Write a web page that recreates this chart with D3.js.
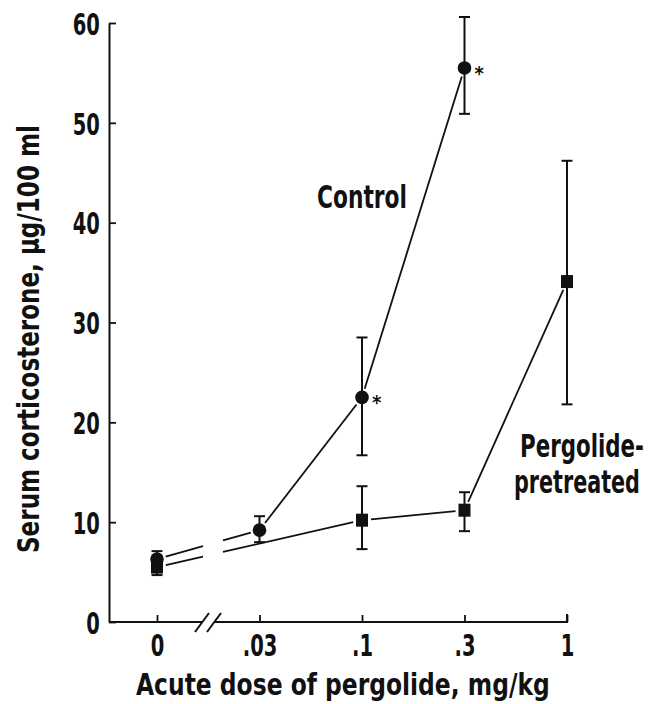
<!DOCTYPE html>
<html>
<head>
<meta charset="utf-8">
<script src="https://cdn.jsdelivr.net/npm/d3@7"></script>
<style>
  body { margin: 0; background: #fff; }
  text { font-family: "Liberation Sans Narrow", "DejaVu Sans Condensed", "Roboto Condensed", sans-serif; font-weight: bold; fill: #111; }
</style>
</head>
<body>
<script>
// dose categories (log-spaced on the original axis)
var doses = ["0", ".03", ".1", ".3", "1"];
var yTicks = [0, 10, 20, 30, 40, 50, 60];

// control rats
var controlMean = [6.3, 9.2, 22.5, 55.5, null];
var controlHigh = [7.1, 10.6, 28.5, 60.6, null];
var controlLow  = [5.5, 8.0, 16.7, 50.9, null];
var controlSig  = [false, false, true, true, false];

// pergolide-pretreated rats (no group at .03)
var pergMean = [5.5, null, 10.2, 11.2, 34.1];
var pergHigh = [6.3, null, 13.6, 13.0, 46.2];
var pergLow  = [4.7, null, 7.3, 9.1, 21.8];

var width = 650, height = 704;
var svg = d3.select("body").append("svg").attr("width", width).attr("height", height);

var margin = {left: 109, top: 23};
var plotH = 599;

var y = d3.scaleLinear().domain([0, 60]).range([plotH, 0]);
var x = d3.scalePoint().domain(doses).range([48, 458]);

var g = svg.append("g").attr("transform", "translate(" + margin.left + "," + margin.top + ")");

// y axis
var yAxis = d3.axisLeft(y).tickValues(yTicks).tickSize(-7).tickSizeOuter(0).tickPadding(13);
var yg = g.append("g").call(yAxis);
yg.select(".domain").attr("stroke", "#111").attr("stroke-width", 2);
yg.selectAll(".tick line").attr("stroke", "#111").attr("stroke-width", 1.8);
yg.selectAll(".tick text").attr("font-size", 31).attr("fill", "#111")
  .attr("font-family", null).attr("dy", "0.36em").attr("transform", "scale(0.7,1)");

// x axis, ticks only; the baseline is drawn by hand with a break
var xAxis = d3.axisBottom(x).tickSize(-7).tickSizeOuter(0).tickPadding(12);
var xg = g.append("g").attr("transform", "translate(0," + plotH + ")").call(xAxis);
xg.select(".domain").remove();
xg.selectAll(".tick line").attr("stroke", "#111").attr("stroke-width", 1.8);
xg.selectAll(".tick text").attr("font-size", 31).attr("fill", "#111").attr("font-family", null)
  .attr("transform", "scale(0.7,1)");

var brk = [94, 106];
var axisEnd = x("1");
g.append("path")
  .attr("d", "M0," + plotH + "H" + brk[0] + "M" + brk[1] + "," + plotH + "H" + axisEnd + "V" + (plotH - 8))
  .attr("fill", "none").attr("stroke", "#111").attr("stroke-width", 2);
[brk[0] - 3, brk[1] - 3].forEach(function(bx) {
  g.append("line").attr("x1", bx - 5).attr("y1", plotH + 10).attr("x2", bx + 9).attr("y2", plotH - 9)
    .attr("stroke", "#111").attr("stroke-width", 2);
});

function pts(mean) {
  var out = [];
  mean.forEach(function(v, i) { if (v != null) out.push([x(doses[i]), y(v)]); });
  return out;
}

// connecting segments, stopping short of the markers, broken at the axis break
function drawSegments(points, gap) {
  for (var i = 0; i < points.length - 1; i++) {
    var a = points[i], b = points[i + 1];
    var dx = b[0] - a[0], dy = b[1] - a[1], len = Math.sqrt(dx * dx + dy * dy);
    var ux = dx / len, uy = dy / len;
    var s = [a[0] + ux * gap, a[1] + uy * gap], e = [b[0] - ux * gap, b[1] - uy * gap];
    var pieces = [[s, e]];
    if (a[0] < brk[0] && b[0] > brk[1]) {
      var t0 = (brk[0] - a[0]) / dx, t1 = (brk[1] + 8 - a[0]) / dx;
      pieces = [[s, [a[0] + dx * t0, a[1] + dy * t0]], [[a[0] + dx * t1, a[1] + dy * t1], e]];
    }
    pieces.forEach(function(p) {
      g.append("line").attr("x1", p[0][0]).attr("y1", p[0][1]).attr("x2", p[1][0]).attr("y2", p[1][1])
        .attr("stroke", "#111").attr("stroke-width", 1.8);
    });
  }
}

drawSegments(pts(controlMean), 9);
drawSegments(pts(pergMean), 9);

function drawErrors(mean, lo, hi) {
  mean.forEach(function(v, i) {
    if (v == null || hi[i] == null) return;
    var cx = x(doses[i]);
    g.append("line").attr("x1", cx).attr("x2", cx).attr("y1", y(lo[i])).attr("y2", y(hi[i]))
      .attr("stroke", "#111").attr("stroke-width", 2);
    [lo[i], hi[i]].forEach(function(e) {
      g.append("line").attr("x1", cx - 5.5).attr("x2", cx + 5.5).attr("y1", y(e)).attr("y2", y(e))
        .attr("stroke", "#111").attr("stroke-width", 2);
    });
  });
}
drawErrors(controlMean, controlLow, controlHigh);
drawErrors(pergMean, pergLow, pergHigh);

// markers
pergMean.forEach(function(v, i) {
  if (v == null) return;
  g.append("rect").attr("x", x(doses[i]) - 6).attr("y", y(v) - 6.5).attr("width", 12).attr("height", 13).attr("fill", "#111");
});
controlMean.forEach(function(v, i) {
  if (v == null) return;
  g.append("circle").attr("cx", x(doses[i])).attr("cy", y(v)).attr("r", 6.8).attr("fill", "#111");
  if (controlSig[i]) {
    g.append("text").attr("x", x(doses[i]) + 10).attr("y", y(v) + 12)
      .attr("font-size", 20).attr("font-family", "DejaVu Sans").text("*");
  }
});

// narrow text: squeeze horizontally to a target width (keeps the bbox honest)
function squeezed(parent, str, x0, y0, size, w, rot) {
  var t = parent.append("text").attr("font-size", size).text(str);
  var k = w / t.node().getComputedTextLength();
  t.attr("transform", "translate(" + x0 + "," + y0 + ")" + (rot ? " rotate(" + rot + ")" : "") + " scale(" + k + ",1)");
  return t;
}

// series labels
squeezed(svg, "Control", 317, 208, 32, 90);
squeezed(svg, "Pergolide-", 520, 457, 32, 124);
squeezed(svg, "pretreated", 514, 493, 32, 126);

// axis titles
squeezed(svg, "Acute dose of pergolide, mg/kg", 136, 695, 31, 414);
squeezed(svg, "Serum corticosterone, \u00b5g/100 ml", 39, 553, 31, 428, -90);
</script>
</body>
</html>
